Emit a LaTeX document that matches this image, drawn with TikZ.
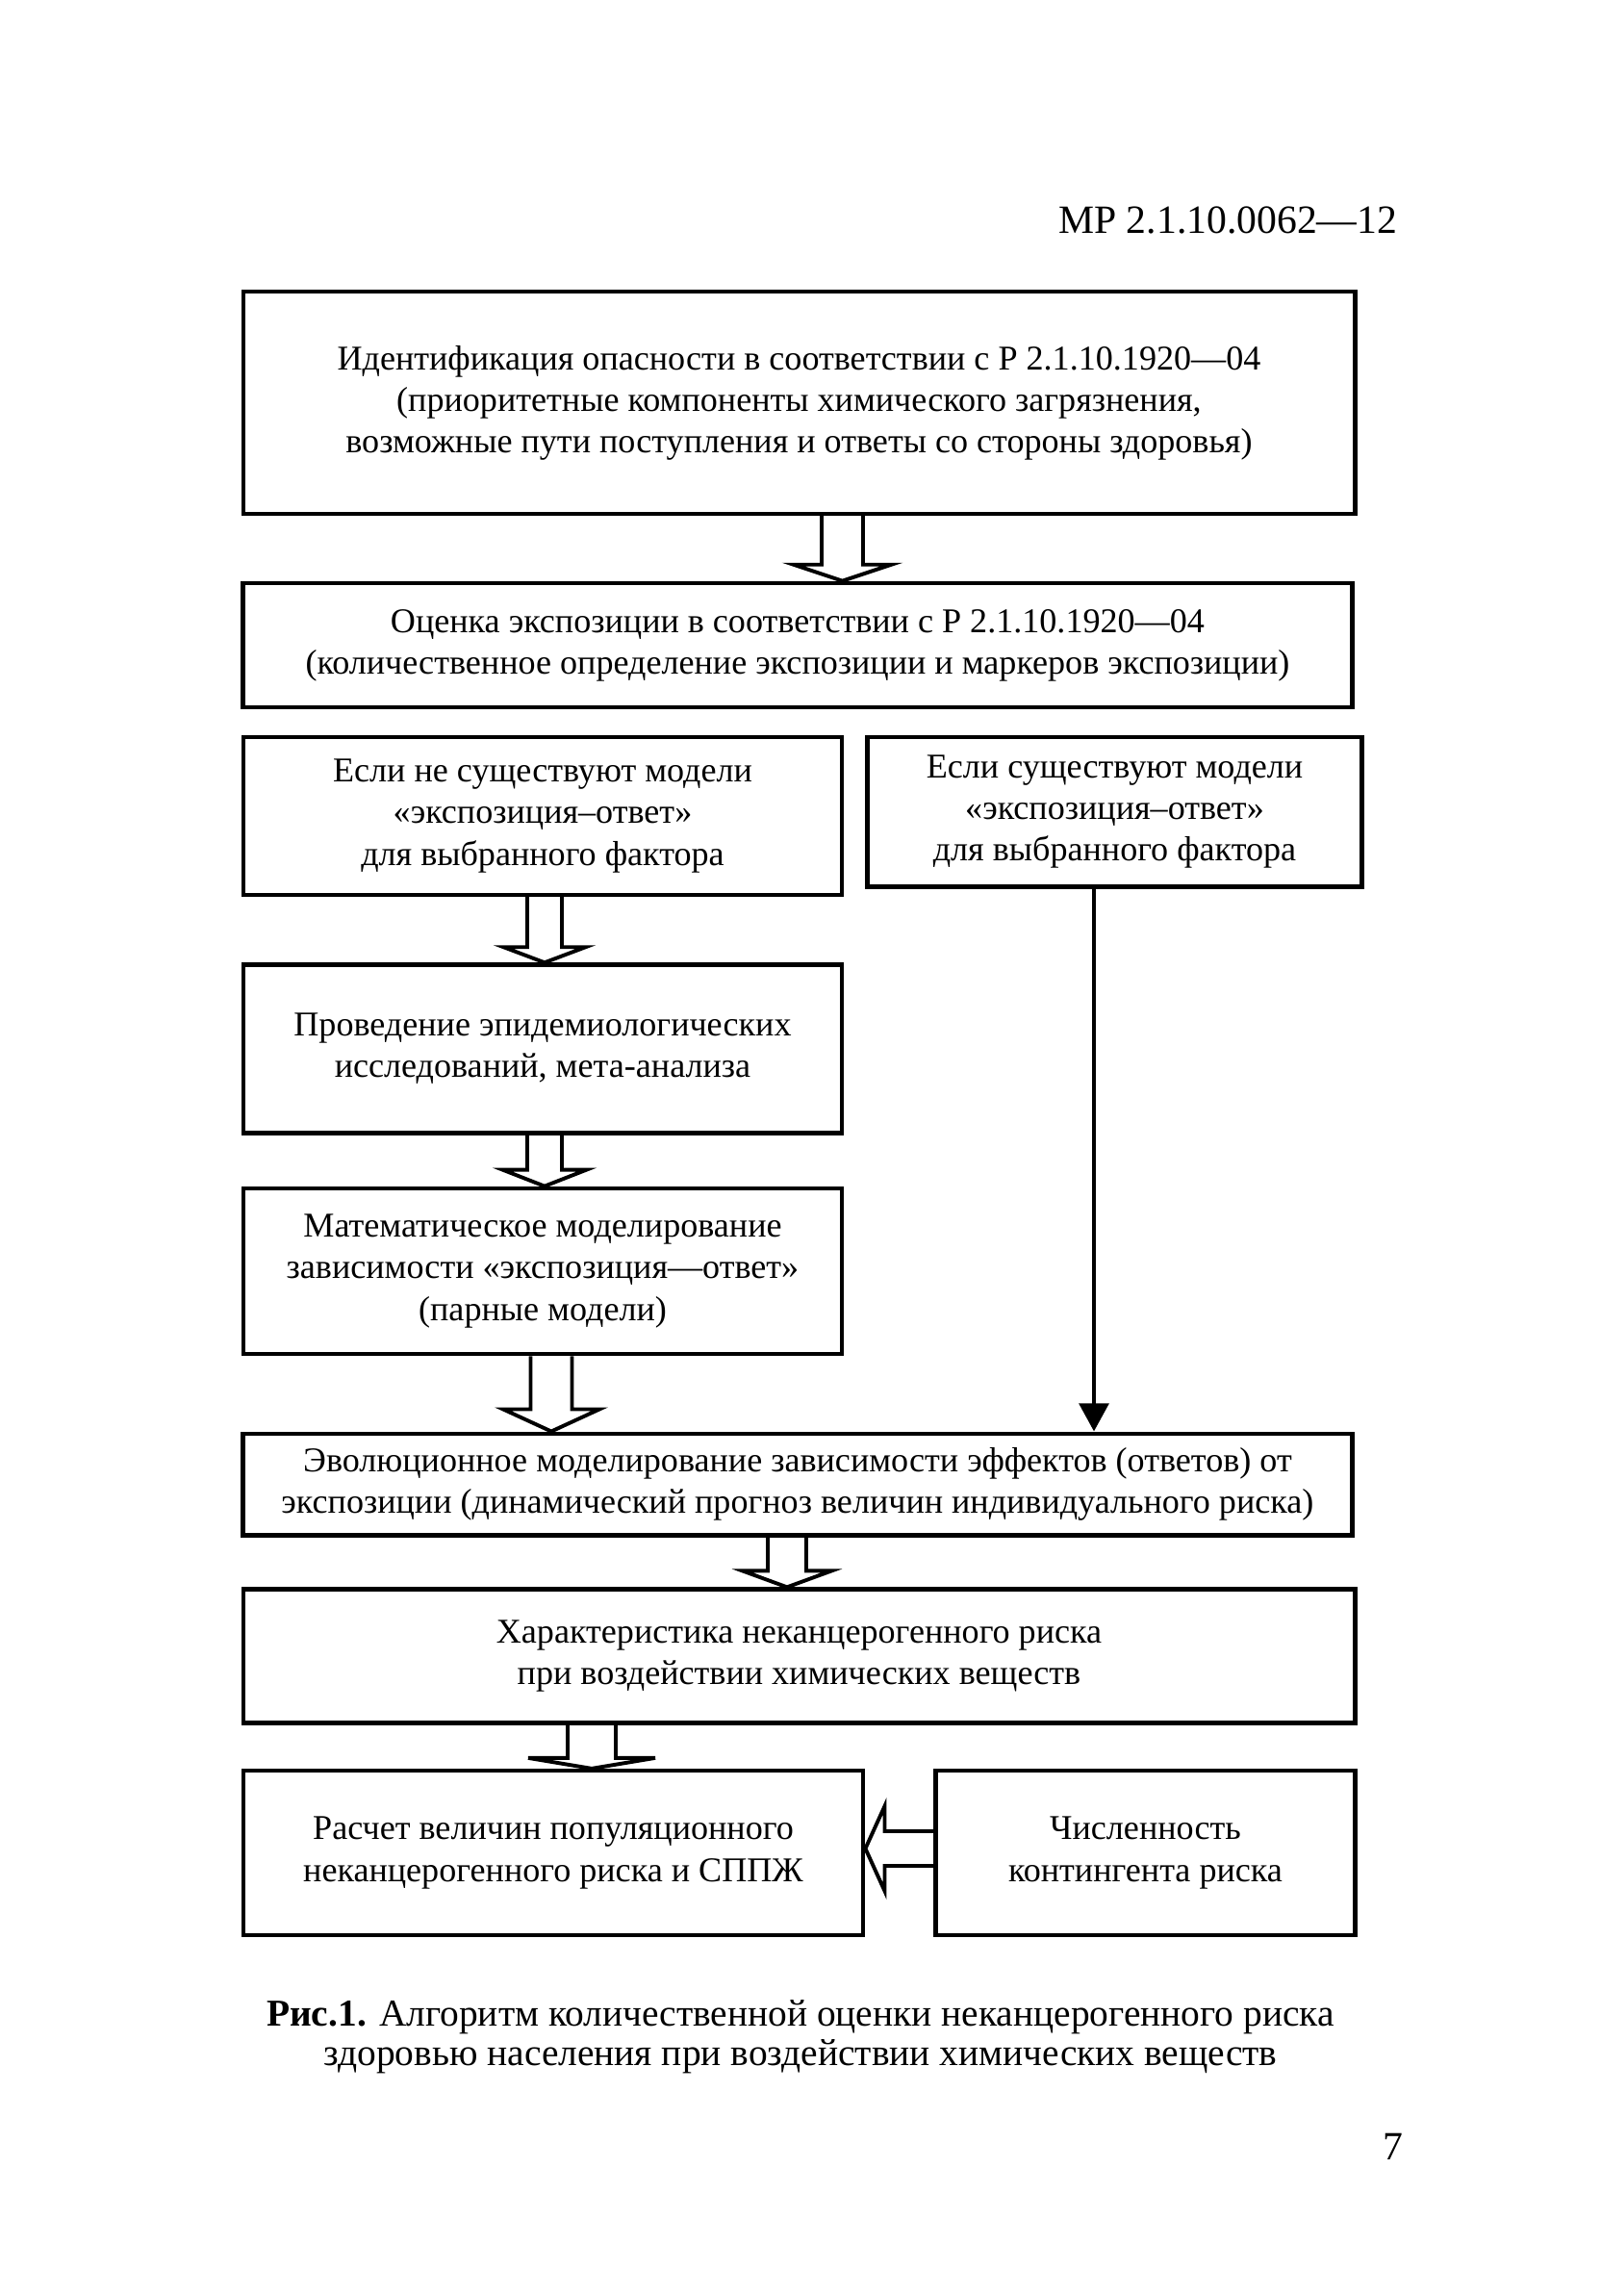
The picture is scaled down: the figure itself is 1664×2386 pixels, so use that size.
\documentclass[tikz,border=0pt]{standalone}
\usepackage{fontspec}
\setmainfont{Liberation Serif}
\usetikzlibrary{calc,positioning,arrows.meta}

\begin{document}
\begin{tikzpicture}[x=0.36pt, y=-0.36pt,
  box/.style={draw, line width=1.6pt, align=center, inner sep=0pt, font=\fontsize{13}{15.5}\selectfont},
  downblock/.style n args={3}{line width=1.4pt, to path={
    ($(\tikztostart)+(-#1,0)$) -- ($(\tikztotarget)+(-#1,-#3)$) -- ($(\tikztotarget)+(-#2,-#3)$) -- (\tikztotarget)
    -- ($(\tikztotarget)+(#2,-#3)$) -- ($(\tikztotarget)+(#1,-#3)$) -- ($(\tikztostart)+(#1,0)$)}},
  leftblock/.style n args={3}{line width=1.4pt, to path={
    ($(\tikztostart)+(0,-#1)$) -- ($(\tikztotarget)+(#3,-#1)$) -- ($(\tikztotarget)+(#3,-#2)$) -- (\tikztotarget)
    -- ($(\tikztotarget)+(#3,#2)$) -- ($(\tikztotarget)+(#3,#1)$) -- ($(\tikztostart)+(0,#1)$)}}]
  \useasboundingbox (0,0) rectangle (1664,2386);

  \node[anchor=base east, font=\fontsize{15}{18}\selectfont] (code) at (1462,243) {МР 2.1.10.0062—12};

  % boxes
  \node[box, minimum width=416pt, minimum height=83pt] (ident) at (830.5,418.5)
    {Идентификация опасности в соответствии с Р 2.1.10.1920—04\\(приоритетные компоненты химического загрязнения,\\возможные пути поступления и ответы со стороны здоровья)};
  \node[box, minimum width=415pt, minimum height=46.5pt] (expo) at (829,670.5)
    {Оценка экспозиции в соответствии с Р 2.1.10.1920—04\\(количественное определение экспозиции и маркеров экспозиции)};
  \node[box, minimum width=224pt, minimum height=59pt] (nomod) at (564,848)
    {Если не существуют модели\\«экспозиция–ответ»\\для выбранного фактора};
  \node[box, minimum width=185pt, minimum height=56pt] (mod) at (1158.5,843.5)
    {Если существуют модели\\«экспозиция–ответ»\\для выбранного фактора};
  \node[box, minimum width=224pt, minimum height=63pt] (epid) at (564,1090)
    {Проведение эпидемиологических\\исследований, мета-анализа};
  \node[box, minimum width=224pt, minimum height=62pt] (math) at (564,1321)
    {Математическое моделирование\\зависимости «экспозиция—ответ»\\(парные модели)};
  \node[box, minimum width=415pt, minimum height=38pt] (evol) at (829,1542.5)
    {Эволюционное моделирование зависимости эффектов (ответов) от\\экспозиции (динамический прогноз величин индивидуального риска)};
  \node[box, minimum width=416pt, minimum height=50pt] (charac) at (830.5,1721)
    {Характеристика неканцерогенного риска\\при воздействии химических веществ};
  \node[box, minimum width=232pt, minimum height=61.5pt] (popr) at (575,1925.5)
    {Расчет величин популяционного\\неканцерогенного риска и СППЖ};
  \node[box, minimum width=157pt, minimum height=61.5pt] (nums) at (1190.5,1925.5)
    {Численность\\контингента риска};

  % arrows
  \draw[downblock={21.5}{51}{17}] (875.5,0 |- ident.south) to (875.5,0 |- expo.north);
  \draw[downblock={18}{42.5}{16}] (566,0 |- nomod.south) to (566,0 |- epid.north);
  \draw[downblock={18}{43.5}{17}] (566,0 |- epid.south) to (566,0 |- math.north);
  \draw[downblock={21.5}{50}{23}] (573,0 |- math.south) to (573,0 |- evol.north);
  \draw[downblock={20}{46.5}{17}] (818,0 |- evol.south) to (818,0 |- charac.north);
  \draw[downblock={25}{66}{11}] (615,0 |- charac.south) to (615,0 |- popr.north);
  \draw[leftblock={18}{44}{20}] (nums.west |- 0,1921) to (popr.east |- 0,1921);
  \draw[line width=1.6pt, -{Triangle[width=11pt,length=10.5pt]}] (1137,0 |- mod.south) -- (1137,0 |- evol.north);

  \node[align=center, font=\fontsize{14.2}{14.8}\selectfont] (caption) at (832,2117)
    {\textbf{Рис.1.} Алгоритм количественной оценки неканцерогенного риска\\здоровью населения при воздействии химических веществ};
  \node[font=\fontsize{15}{18}\selectfont] (page) at (1448,2231) {7};
\end{tikzpicture}
\end{document}
